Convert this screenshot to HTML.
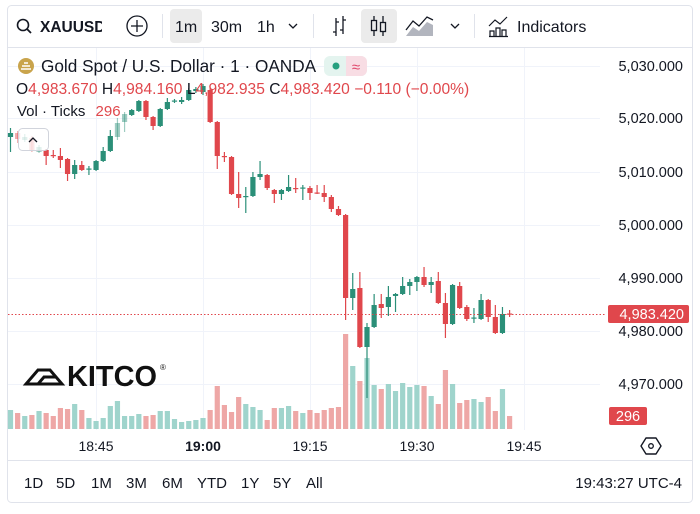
<!DOCTYPE html>
<html><head><meta charset="utf-8">
<style>
body{margin:0;background:#fff;width:700px;height:509px;overflow:hidden;font-family:"Liberation Sans",sans-serif}
svg text{font-family:"Liberation Sans",sans-serif}
</style></head><body>
<svg id="s" width="700" height="509" xmlns="http://www.w3.org/2000/svg">
<rect x="7.5" y="5.5" width="685" height="497" rx="4" fill="#fff" stroke="#e0e3eb"/>
<line x1="8" y1="47.5" x2="692" y2="47.5" stroke="#e0e3eb"/>
<line x1="8" y1="460.5" x2="692" y2="460.5" stroke="#e0e3eb"/>
<g id="grid" stroke="#f0f3fa" stroke-width="1"></g>
<g id="vol"></g>
<g id="cdl"></g>
<line x1="8" y1="314.5" x2="606" y2="314.5" stroke="#e0474c" stroke-width="1" stroke-dasharray="1.5,2"/>
<g font-size="14.5" fill="#131722" text-anchor="end">
<text x="683" y="71">5,030.000</text>
<text x="683" y="123">5,020.000</text>
<text x="683" y="177">5,010.000</text>
<text x="683" y="230">5,000.000</text>
<text x="683" y="283">4,990.000</text>
<text x="683" y="336">4,980.000</text>
<text x="683" y="389">4,970.000</text>
</g>
<rect x="608" y="305" width="81" height="18" rx="2" fill="#e0474c"/>
<text x="684" y="319" font-size="14.5" fill="#fff" text-anchor="end">4,983.420</text>
<rect x="609" y="407" width="38" height="18" rx="2" fill="#e0474c"/>
<text x="628" y="421" font-size="14.5" fill="#fff" text-anchor="middle">296</text>
<g font-size="14" fill="#131722" text-anchor="middle">
<text x="96" y="451">18:45</text>
<text x="203" y="451" font-weight="bold">19:00</text>
<text x="310" y="451">19:15</text>
<text x="417" y="451">19:30</text>
<text x="524" y="451">19:45</text>
</g>
<path d="M646 438 L656 438 L661 446 L656 454 L646 454 L641 446 Z" fill="none" stroke="#131722" stroke-width="1.4" stroke-linejoin="round"/>
<circle cx="651" cy="446" r="2.3" fill="none" stroke="#131722" stroke-width="1.3"/>
<g font-size="15" fill="#131722">
<text x="24" y="488">1D</text><text x="56" y="488">5D</text><text x="91" y="488">1M</text>
<text x="126" y="488">3M</text><text x="162" y="488">6M</text><text x="197" y="488">YTD</text>
<text x="241" y="488">1Y</text><text x="273" y="488">5Y</text><text x="306" y="488">All</text>
<text x="682" y="488" text-anchor="end">19:43:27 UTC-4</text>
</g>
<circle cx="23" cy="25" r="5.5" fill="none" stroke="#131722" stroke-width="1.6"/>
<line x1="27" y1="29" x2="31" y2="33" stroke="#131722" stroke-width="1.8"/>
<svg x="40" y="14" width="62" height="24"><text x="0" y="18" font-size="15.5" font-weight="bold" fill="#131722">XAUUSD</text></svg>
<circle cx="137" cy="26" r="10" fill="none" stroke="#131722" stroke-width="1.3"/>
<path d="M137 20v12M131 26h12" stroke="#131722" stroke-width="1.3"/>
<line x1="162.5" y1="14" x2="162.5" y2="38" stroke="#e0e3eb"/>
<rect x="170" y="9" width="32" height="34" rx="4" fill="#ebebeb"/>
<g font-size="16" fill="#131722">
<text x="175" y="32">1m</text><text x="211" y="32">30m</text><text x="257" y="32">1h</text>
<text x="517" y="32">Indicators</text>
</g>
<path d="M289 24l4 4 4-4" fill="none" stroke="#131722" stroke-width="1.3"/>
<line x1="313.5" y1="14" x2="313.5" y2="38" stroke="#e0e3eb"/>
<path d="M336 18v18M336 32h-3M336 22h3M343 16v18M343 20h3M343 30h-3" fill="none" stroke="#131722" stroke-width="1.3"/>
<rect x="361" y="9" width="36" height="34" rx="4" fill="#ebebeb"/>
<path d="M374 16v20M383 16v20" stroke="#131722" stroke-width="1.3"/>
<rect x="371.5" y="20.5" width="5" height="10" fill="#ebebeb" stroke="#131722" stroke-width="1.3"/>
<rect x="380.5" y="22.5" width="5" height="9" fill="#ebebeb" stroke="#131722" stroke-width="1.3"/>
<path d="M406 36 L413 27 L419 31 L427 22 L433 25 L433 36 Z" fill="#b2b5be"/>
<path d="M406 30 L413 21 L419 26 L427 17 L433 20" fill="none" stroke="#131722" stroke-width="1.3"/>
<path d="M451 24l4 4 4-4" fill="none" stroke="#131722" stroke-width="1.3"/>
<line x1="474.5" y1="14" x2="474.5" y2="38" stroke="#e0e3eb"/>
<path d="M489 26 L495 20 L500 24 L507 17 M490 36v-5h4v5M496 36v-8h4v8M502 36v-6h4v6M489 36.5h19" fill="none" stroke="#131722" stroke-width="1.2"/>
<circle cx="26" cy="66" r="8" fill="#c9a44c"/>
<path d="M21 69h10M22 66h8M24 63h4" stroke="#fff" stroke-width="1.6"/>
<text x="41" y="72" font-size="17.2" fill="#131722">Gold Spot / U.S. Dollar · 1 · OANDA</text>
<rect x="324" y="56" width="43" height="20" rx="6" fill="#e4f4ef"/>
<path d="M346 56h15a6 6 0 0 1 6 6v8a6 6 0 0 1-6 6h-15z" fill="#f8dde4"/>
<circle cx="336" cy="66" r="3.5" fill="#26a07f"/>
<text x="356" y="72" font-size="15" fill="#e0476b" text-anchor="middle">≈</text>
<text x="16" y="94" font-size="15.6" fill="#131722">O<tspan fill="#e0474c">4,983.670</tspan> H<tspan fill="#e0474c">4,984.160</tspan> L<tspan fill="#e0474c">4,982.935</tspan> C<tspan fill="#e0474c">4,983.420</tspan> <tspan fill="#e0474c">−0.110 (−0.00%)</tspan></text>
<text x="17" y="116" font-size="15" fill="#131722">Vol · Ticks <tspan dx="6" fill="#e0474c">296</tspan></text>
<rect x="18.5" y="128.5" width="30" height="22" rx="4" fill="#fff" fill-opacity="0.7" stroke="#d1d4dc"/>
<path d="M29 142l4-4 4 4" fill="none" stroke="#131722" stroke-width="1.3"/>
<g fill="none" stroke="#111" stroke-width="3">
<path d="M26 384 L38 370 L50 370 L62 384 Z"/>
<path d="M38 384 L44 377 L56 377"/>
</g>
<text x="67" y="386" font-size="29" font-weight="bold" fill="#111" textLength="90" lengthAdjust="spacingAndGlyphs">KITCO</text>
<text x="160" y="370" font-size="8" fill="#111">®</text>
</svg>
<script>
const NS="http://www.w3.org/2000/svg";
function el(p,t,a){const e=document.createElementNS(NS,t);for(const k in a)e.setAttribute(k,a[k]);p.appendChild(e);}
const g=document.getElementById('grid');
[66,118,172,225,278,331,384].forEach(y=>el(g,'line',{x1:8,x2:600,y1:y+.5,y2:y+.5}));
[96,203,310,417,524].forEach(x=>el(g,'line',{x1:x+.5,x2:x+.5,y1:48,y2:430}));
const C=[[137,133,128,152],[133,139,131,143],[140,137,134,142],[138,150,136,152],[152,147,145,153],[150,156,149,165],[155,156,150,158],[156,160,148,168],[159,174,158,181],[174,165,160,179],[165,170,161,171],[169.5,168.5,166,175],[170,161,160,171],[161,151,147,162],[151,136,130,152],[137,123,118,140],[122,114,112,132],[115,110,109,116],[111,101,100,112],[101,117,100,120],[117,126,116,130],[126,109,108,127],[109,102,98,110],[101.5,100.5,99,103],[102,100,97,104],[100,90,88,101],[91,89,87,93],[92,86,84,95],
[90,122,88,123],[122,156,121,169],[156,157,152,162],[157,194,156,195],[194,198,172,208],[197,196,187,213],[196,177,172,197],[177,174,161,180],[175,188,174,190],[190,194,189,203],[194,190,189,200],[191,187,175,192],[188,189,178,193],[188.5,187.5,185,200],[188,193,186,200],[192.5,193.5,185,194],[193,197,185,202],[197,209,195,212],[209,215,206,216],[215,298,214,320],[298,289,273,310],[288,347,272,348],[347,327,323,398],[327,305,294,328],[304,308,294,318],[307,297,286,316],[296,294,293,312],[294,286,277,295],[286,282,279,295],[282,277,276,291],[277,285,267,287],[285,282,277,293],[281,303,272,304],[303,324,293,338],[324,285,284,325],[286,308,282,309],[307,319,305,321],[318.5,317.5,308,323],[319,300,294,320],[300,317,299,322],[317,333,305,334],[333,314,307,334],[313.5,314.5,310,317]];
const V=[410,413,416,415,411,413,416,408,409,404,410,418,421,418,406,401,416,416,414,416,415,411,411,419,422,421,420,418,410,386,405,412,397,404,407,410,420,408,408,406,411,413,410,413,410,408,407,334,366,381,358,385,389,384,391,383,387,385,386,396,404,370,384,403,400,399,402,397,411,389,416];
const cg=document.getElementById('cdl'),vg=document.getElementById('vol');
C.forEach((c,i)=>{const x=10.5+i*7.13;const up=c[1]<c[0];const col=up?'#2b8f78':'#e0474c';
const faded=(i>=1&&i<=4)||(i>=15&&i<=16);
const op=faded?0.45:1;
el(cg,'line',{x1:x,x2:x,y1:c[2],y2:c[3],stroke:col,'stroke-width':1.2,opacity:op});
const t=Math.min(c[0],c[1]),h=Math.max(1.2,Math.abs(c[0]-c[1]));
el(cg,'rect',{x:x-2.6,y:t,width:5.2,height:h,fill:col,opacity:op});
el(vg,'rect',{x:x-2.6,y:V[i],width:5.2,height:429-V[i],fill:up?'#9fd4cc':'#eea7a6'});});
</script>
</body></html>
